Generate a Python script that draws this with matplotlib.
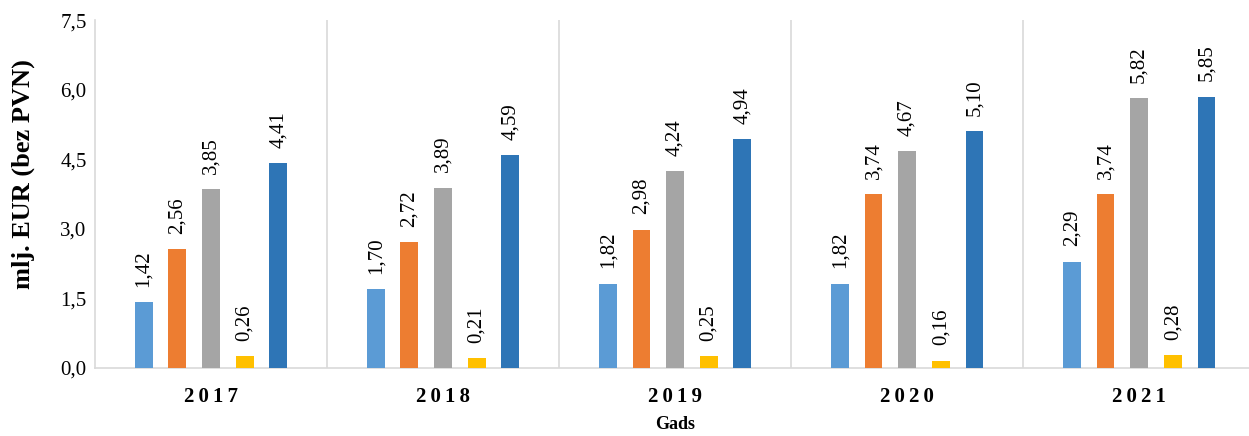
import numpy as np
import matplotlib
matplotlib.use("Agg")
import matplotlib.pyplot as plt

# Dati
years = ["2017", "2018", "2019", "2020", "2021"]
series_a = [1.42, 1.70, 1.82, 1.82, 2.29]
series_b = [2.56, 2.72, 2.98, 3.74, 3.74]
series_c = [3.85, 3.89, 4.24, 4.67, 5.82]
series_d = [0.26, 0.21, 0.25, 0.16, 0.28]
series_e = [4.41, 4.59, 4.94, 5.10, 5.85]
yticks = [0.0, 1.5, 3.0, 4.5, 6.0, 7.5]

all_series = [series_a, series_b, series_c, series_d, series_e]
colors = ["#5B9BD5", "#ED7D31", "#A5A5A5", "#FFC000", "#2E75B6"]

plt.rcParams['font.family'] = ['Liberation Serif', 'DejaVu Serif']

fig = plt.figure(figsize=(12.49, 4.36), dpi=100)
ax = fig.add_axes([0.076, 0.156, 0.929, 0.798])

x = np.arange(len(years))
step = 0.145
width = 0.077

for i, (vals, col) in enumerate(zip(all_series, colors)):
    pos = x + (i - 2) * step
    ax.bar(pos, vals, width=width, color=col, zorder=3)
    # etichette dei valori
    for px, v in zip(pos, vals):
        ax.annotate(f"{v:.2f}".replace(".", ","), (px, v),
                    xytext=(0, 11), textcoords="offset points",
                    rotation=90, ha="center", va="bottom", fontsize=15)

# separatori tra gruppi
for b in np.arange(0.5, len(years) - 0.5, 1.0):
    ax.axvline(b, color="#D9D9D9", lw=1.2, zorder=1)

ax.set_xlim(-0.5, len(years) - 0.5)
ax.set_ylim(0, 7.5)
ax.set_yticks(yticks)
ax.set_yticklabels([f"{t:.1f}".replace(".", ",") for t in yticks], fontsize=15)
ax.set_xticks(x)
ax.set_xticklabels(["\u2009".join(y) for y in years], fontsize=15, fontweight="bold")
ax.tick_params(axis="both", length=0)
ax.tick_params(axis="x", pad=14)
ax.tick_params(axis="y", pad=6)

for s in ["top", "right"]:
    ax.spines[s].set_visible(False)
for s in ["left", "bottom"]:
    ax.spines[s].set_color("#D9D9D9")
    ax.spines[s].set_linewidth(1.2)

ax.set_ylabel("mlj. EUR (bez PVN)", fontsize=19, fontweight="bold", labelpad=8)
ax.yaxis.set_label_coords(-0.052, 0.557)
ax.set_xlabel("Gads", fontsize=13, fontweight="bold", labelpad=6)

fig.savefig("out.png", dpi=100)
